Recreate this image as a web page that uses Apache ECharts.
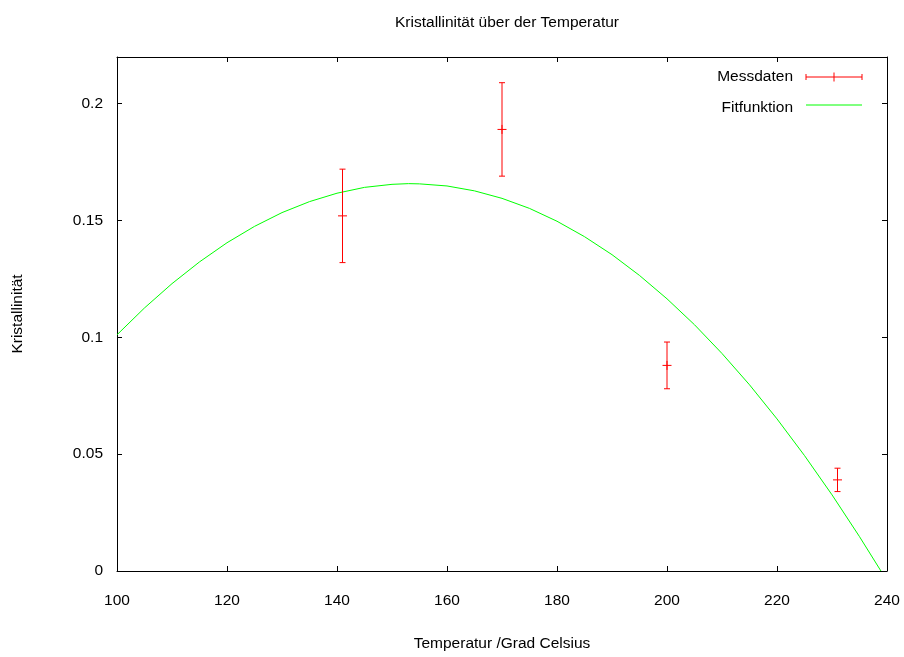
<!DOCTYPE html>
<html>
<head>
<meta charset="utf-8">
<script src="https://cdn.jsdelivr.net/npm/echarts@6/dist/echarts.min.js"></script>
<style>html,body{margin:0;padding:0;background:#fff;}#c{width:904px;height:657px;}</style>
</head>
<body>
<div id="c"></div>
<script>
const xMeas = [141, 170, 200, 231];
const yMeas = [0.152, 0.189, 0.088, 0.039];
const yErr  = [0.020, 0.020, 0.010, 0.005];
// Fit curve points
const fitX = [100, 105, 110, 115, 120, 125, 130, 135, 140, 145, 150, 153, 155, 160, 165, 170, 175, 180, 185, 190, 195, 200, 205, 210, 215, 220, 225, 230, 235, 238.9];
const fitY = [0.1011, 0.1126, 0.1230, 0.1323, 0.1405, 0.1475, 0.1534, 0.1581, 0.1617, 0.1642, 0.1655, 0.1658, 0.1657, 0.1648, 0.1627, 0.1595, 0.1552, 0.1497, 0.1431, 0.1354, 0.1265, 0.1165, 0.1054, 0.0931, 0.0797, 0.0651, 0.0494, 0.0326, 0.0147, 0];
const titleText = 'Kristallinität über der Temperatur';
const xName = 'Temperatur /Grad Celsius';
const yName = 'Kristallinität';
const legendNames = ['Messdaten', 'Fitfunktion'];

const FONT = 'Liberation Sans, Arial, sans-serif';
const FS = 15.5;
const RED = '#ff0000', GREEN = '#00ff00';

const errData = xMeas.map((x, i) => [x, yMeas[i], yErr[i]]);
const fitData = fitX.map((x, i) => [x, fitY[i]]);

const chart = echarts.init(document.getElementById('c'), null, {renderer: 'canvas'});

function renderErr(params, api) {
  const x = api.value(0), y = api.value(1), e = api.value(2);
  const c = api.coord([x, y]);
  const top = api.coord([x, y + e]);
  const bot = api.coord([x, y - e]);
  const cap = 3, cr = 4.5;
  const st = {stroke: RED, lineWidth: 1};
  return {
    type: 'group',
    children: [
      {type: 'line', shape: {x1: c[0], y1: top[1], x2: c[0], y2: bot[1]}, style: st},
      {type: 'line', shape: {x1: c[0] - cap, y1: top[1], x2: c[0] + cap, y2: top[1]}, style: st},
      {type: 'line', shape: {x1: c[0] - cap, y1: bot[1], x2: c[0] + cap, y2: bot[1]}, style: st},
      {type: 'line', shape: {x1: c[0] - cr, y1: c[1], x2: c[0] + cr, y2: c[1]}, style: st},
      {type: 'line', shape: {x1: c[0], y1: c[1] - cr, x2: c[0], y2: c[1] + cr}, style: st}
    ]
  };
}

const axisCommon = {
  axisLine: {show: true, onZero: false, lineStyle: {color: '#000', width: 1}},
  axisTick: {show: true, inside: true, length: 5, lineStyle: {color: '#000'}},
  splitLine: {show: false}
};

const lg = {x: 793, x1: 806, x2: 862, y1: 77, y2t: 108, y2: 105};

chart.setOption({
  animation: false,
  backgroundColor: '#fff',
  title: {
    text: titleText, left: 502, top: 10, textAlign: 'center',
    textStyle: {fontFamily: FONT, fontSize: FS, fontWeight: 'normal', color: '#000'}
  },
  grid: {left: 117, right: 17, top: 57, bottom: 80, containLabel: false},
  xAxis: [
    Object.assign({}, axisCommon, {
      type: 'value', min: 100, max: 240, interval: 20, position: 'bottom',
      name: xName, nameLocation: 'middle', nameGap: 65,
      nameTextStyle: {fontFamily: FONT, fontSize: FS, color: '#000'},
      axisLabel: {fontFamily: FONT, fontSize: FS, color: '#000', margin: 22}
    }),
    Object.assign({}, axisCommon, {
      type: 'value', min: 100, max: 240, interval: 20, position: 'top',
      axisLabel: {show: false}
    })
  ],
  yAxis: [
    Object.assign({}, axisCommon, {
      type: 'value', min: 0, max: 0.22, interval: 0.05, position: 'left',
      name: yName, nameLocation: 'middle', nameGap: 91, nameRotate: 90,
      nameTextStyle: {fontFamily: FONT, fontSize: FS, color: '#000'},
      axisLabel: {fontFamily: FONT, fontSize: FS, color: '#000', margin: 14, showMaxLabel: false}
    }),
    Object.assign({}, axisCommon, {
      type: 'value', min: 0, max: 0.22, interval: 0.05, position: 'right',
      axisLabel: {show: false}
    })
  ],
  graphic: [
    {type: 'text', x: lg.x, y: lg.y1, style: {text: legendNames[0], fill: '#000', font: FS + 'px ' + FONT, textAlign: 'right', textVerticalAlign: 'middle'}},
    {type: 'line', shape: {x1: lg.x1, y1: lg.y1, x2: lg.x2, y2: lg.y1}, style: {stroke: RED, lineWidth: 1}},
    {type: 'line', shape: {x1: lg.x1, y1: lg.y1 - 3, x2: lg.x1, y2: lg.y1 + 3}, style: {stroke: RED, lineWidth: 1}},
    {type: 'line', shape: {x1: lg.x2, y1: lg.y1 - 3, x2: lg.x2, y2: lg.y1 + 3}, style: {stroke: RED, lineWidth: 1}},
    {type: 'line', shape: {x1: (lg.x1 + lg.x2) / 2, y1: lg.y1 - 4.5, x2: (lg.x1 + lg.x2) / 2, y2: lg.y1 + 4.5}, style: {stroke: RED, lineWidth: 1}},
    {type: 'text', x: lg.x, y: lg.y2t, style: {text: legendNames[1], fill: '#000', font: FS + 'px ' + FONT, textAlign: 'right', textVerticalAlign: 'middle'}},
    {type: 'line', shape: {x1: lg.x1, y1: lg.y2, x2: lg.x2, y2: lg.y2}, style: {stroke: GREEN, lineWidth: 1}}
  ],
  series: [
    {
      name: legendNames[0], type: 'custom', xAxisIndex: 0, yAxisIndex: 0,
      renderItem: renderErr, data: errData, z: 3, clip: true
    },
    {
      name: legendNames[1], type: 'line', xAxisIndex: 0, yAxisIndex: 0,
      data: fitData, smooth: false, showSymbol: false, symbol: 'none',
      lineStyle: {color: GREEN, width: 1}, z: 2, clip: true
    }
  ]
});
</script>
</body>
</html>
